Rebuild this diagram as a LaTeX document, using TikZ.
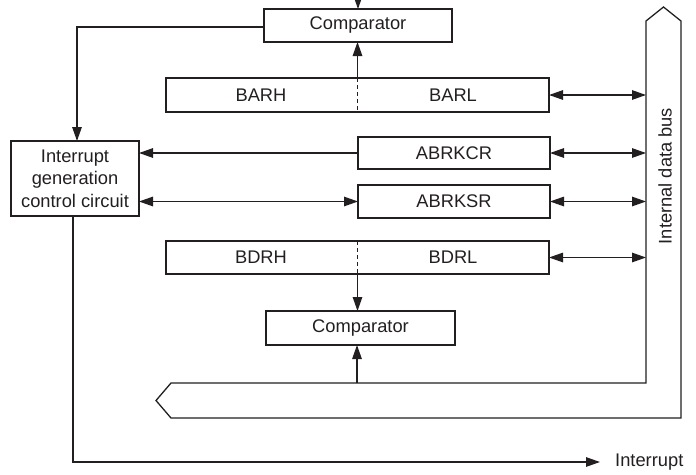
\documentclass[tikz,border=0pt]{standalone}
\usepackage{fontspec}
\setmainfont{Liberation Sans}
\usetikzlibrary{arrows.meta,calc}
\definecolor{ink}{HTML}{231F20}
\begin{document}
\begin{tikzpicture}[x=1pt,y=-1pt,
  box/.style={draw=ink,line width=2.8pt,rectangle,inner sep=0pt,outer sep=0pt,
    text=ink,font=\fontsize{18.3}{22.5}\selectfont,align=center},
  lbl/.style={text=ink,inner sep=0pt,font=\fontsize{18.3}{22.5}\selectfont},
  wire/.style={draw=ink,line width=1.3pt},
  tip/.style={-{Triangle[length=14pt,width=9.5pt]}},
  both/.style={{Triangle[length=14pt,width=9.5pt]}-{Triangle[length=14pt,width=9.5pt]}},
]
\useasboundingbox (0,0) rectangle (696,474);

% registers and comparators
\node[box,minimum width=188pt,minimum height=33pt] (cmpA) at (358,25.5) {Comparator};
\node[box,minimum width=383pt,minimum height=34pt] (bar) at (357.5,95) {};
\node[lbl] at (261,95) {BARH};
\node[lbl] at (453,95) {BARL};
\draw[ink,line width=1.3pt,dash pattern=on 4pt off 3pt] (bar.north) -- (bar.south);

\node[box,minimum width=192pt,minimum height=32pt] (abcr) at (454,153) {ABRKCR};
\node[box,minimum width=192pt,minimum height=33pt] (absr) at (454,201.5) {ABRKSR};

\node[box,minimum width=383pt,minimum height=33pt] (bdr) at (357.5,257.5) {};
\node[lbl] at (261,257.5) {BDRH};
\node[lbl] at (453,257.5) {BDRL};
\draw[ink,line width=1.3pt,dash pattern=on 4pt off 3pt] (bdr.north) -- (bdr.south);

\node[box,minimum width=189pt,minimum height=34pt] (cmpB) at (360.5,328) {Comparator};

% interrupt generation block
\node[box,minimum width=128pt,minimum height=75pt] (ctl) at (75,178.5)
  {Interrupt\\generation\\control circuit};

% internal data bus outline
\coordinate (busUL) at (646,383);
\draw[ink,line width=1.3pt]
  (busUL) -- (646,21) -- (663.5,7) -- (681,21) -- (681,418)
  -- (171,418) -- (156,400.5) -- (171,383) -- cycle;
\node[lbl,rotate=90] (buslbl) at (665,176) {Internal data bus};
\coordinate (busL) at (646,200);

% connections to the bus
\draw[wire,both] (bar.east) -- (bar.east -| busL);
\draw[wire,both] (abcr.east) -- (abcr.east -| busL);
\draw[wire,both] (absr.east) -- (absr.east -| busL);
\draw[wire,both] (bdr.east) -- (bdr.east -| busL);

% comparator inputs
\coordinate (topin) at (358,-4);
\draw[wire,tip] (topin) -- (cmpA.north);
\draw[wire,tip] (bar.north) -- (bar.north |- cmpA.south);
\draw[wire,tip] (bdr.south) -- (bdr.south |- cmpB.north);
\coordinate (busin) at (357,383);
\draw[wire,tip] (busin) -- (busin |- cmpB.south);

% comparator A result to the interrupt block
\coordinate (bendA) at (77,27);
\draw[wire,tip] (cmpA.west |- bendA) -- (bendA) -- (bendA |- ctl.north);

% status / control lines
\draw[wire,tip] (abcr.west) -- (abcr.west -| ctl.east);
\draw[wire,both] (absr.west) -- (absr.west -| ctl.east);

% interrupt output
\coordinate (ctlout) at (73,217);
\coordinate (corner) at (73,462);
\node[lbl,anchor=west] (irq) at (615,462) {Interrupt};
\draw[wire,tip] (ctlout) -- (corner) -- ($(irq.west)+(-15,0)$);
\end{tikzpicture}
\end{document}
